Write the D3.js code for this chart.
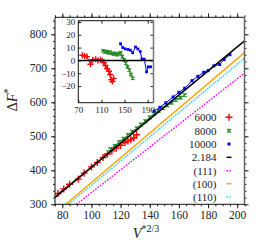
<!DOCTYPE html>
<html>
<head>
<meta charset="utf-8">
<script src="https://cdn.jsdelivr.net/npm/d3@7"></script>
<style>
body { margin: 0; background: #fff; }
text { font-family: "Liberation Serif", "DejaVu Serif", serif; fill: #222; }
</style>
</head>
<body>
<div id="chart"></div>
<script>
// V^{2/3} and deviation from the 2.184 fit
const v6000 = [77, 81, 85, 91, 95, 100, 104, 108, 111, 114, 117, 120, 123, 125, 127, 129, 131];
const r6000 = [4, 3.5, 3, -3, 0.5, 1, 0, 0.5, 0, -1.5, -4, -6.5, -8.5, -11, -15, -16.5, -14];
const v8000 = [113, 116, 119, 122, 125, 128, 131, 134, 137, 140, 143, 146, 149, 152, 155, 158, 161, 164];
const r8000 = [7.5, 6.5, 7, 6, 6.5, 5.5, 5, 5.5, 4.5, 5, 6, 3, 0.5, -2, -5, -7.5, -11, -14];
const v10000 = [143, 147, 151, 156, 160, 164, 169, 173, 177, 180, 184, 188, 191, 195];
const r10000 = [13, 10, 9, 8.5, 8, 6, 10.5, 9, 7, 1, 1, -9, -5, -5];

// straight lines: slope / intercept
const fitSlope = 3.538, fitIntercept = 55.2;
const facetNames = ['(111)', '(100)', '(110)'];
const facetSlopes = [3.345, 3.64, 3.56];

const xTicks = [80, 100, 120, 140, 160, 180, 200];
const yTicks = [300, 400, 500, 600, 700, 800];
const insetXTicks = [70, 110, 150, 190];
const insetYTicks = [-20, -10, 0, 10, 20, 30];

const width = 266, height = 245;
const L = 55, R = 244.5, T = 17.3, B = 204.3;

const svg = d3.select('#chart').append('svg')
	.attr('width', width)
	.attr('height', height);

const x = d3.scaleLinear().domain([75, 205]).range([L, R]);
const y = d3.scaleLinear().domain([300, 850]).range([B, T]);

svg.append('clipPath').attr('id', 'clip')
	.append('rect').attr('x', L).attr('y', T).attr('width', R - L).attr('height', B - T);

// axes, ticks outward on all four sides
function axisStyle(g) {
	g.select('.domain').remove();
	g.selectAll('line').attr('stroke', '#222');
	g.selectAll('text').style('font-size', '11.5px').style('font-family', '"Liberation Serif", serif');
}
svg.append('g').attr('transform', 'translate(0,' + B + ')')
	.call(d3.axisBottom(x).tickValues(d3.range(75, 206, 5)).tickSize(2).tickFormat(''))
	.call(axisStyle);
svg.append('g').attr('transform', 'translate(0,' + B + ')')
	.call(d3.axisBottom(x).tickValues(xTicks).tickSize(4).tickPadding(3))
	.call(axisStyle);
svg.append('g').attr('transform', 'translate(0,' + T + ')')
	.call(d3.axisTop(x).tickValues(d3.range(75, 206, 5)).tickSize(2).tickFormat(''))
	.call(axisStyle);
svg.append('g').attr('transform', 'translate(0,' + T + ')')
	.call(d3.axisTop(x).tickValues(xTicks).tickSize(4).tickFormat(''))
	.call(axisStyle);
svg.append('g').attr('transform', 'translate(' + L + ',0)')
	.call(d3.axisLeft(y).tickValues(d3.range(300, 851, 20)).tickSize(2).tickFormat(''))
	.call(axisStyle);
svg.append('g').attr('transform', 'translate(' + L + ',0)')
	.call(d3.axisLeft(y).tickValues(yTicks).tickSize(4).tickPadding(4))
	.call(axisStyle);
svg.append('g').attr('transform', 'translate(' + R + ',0)')
	.call(d3.axisRight(y).tickValues(d3.range(300, 851, 20)).tickSize(2).tickFormat(''))
	.call(axisStyle);
svg.append('g').attr('transform', 'translate(' + R + ',0)')
	.call(d3.axisRight(y).tickValues(yTicks).tickSize(4).tickFormat(''))
	.call(axisStyle);

// axis titles
svg.append('text')
	.attr('transform', 'translate(17,100) rotate(-90)')
	.attr('text-anchor', 'middle')
	.style('font-size', '14.5px')
	.call(t => {
		t.append('tspan').text('Δ');
		t.append('tspan').attr('font-style', 'italic').text('F');
		t.append('tspan').attr('dy', -6).style('font-size', '10px').text('*');
	});
svg.append('text')
	.attr('x', 146).attr('y', 238)
	.attr('text-anchor', 'middle')
	.style('font-size', '14.5px')
	.call(t => {
		t.append('tspan').attr('font-style', 'italic').text('V');
		t.append('tspan').attr('dy', -6).style('font-size', '10px').text('*2/3');
	});

const plot = svg.append('g').attr('clip-path', 'url(#clip)');

// facet lines through origin
const facetColors = ['#ff00ff', '#ffa500', '#00e5ee'];
const facetDash = ['1.6,1.4', null, '1.6,1'];
facetSlopes.forEach(function(s, i) {
	plot.append('line')
		.attr('x1', x(75)).attr('y1', y(75 * s))
		.attr('x2', x(205)).attr('y2', y(205 * s))
		.attr('stroke', facetColors[i])
		.attr('stroke-width', 1.4)
		.attr('stroke-dasharray', facetDash[i]);
});

const series = [
	{ name: '6000', v: v6000, r: r6000, color: '#ff0000', shape: 'plus' },
	{ name: '8000', v: v8000, r: r8000, color: '#228b22', shape: 'star' },
	{ name: '10000', v: v10000, r: r10000, color: '#0000ff', shape: 'square' }
];

function marker(sel, shape, color, s) {
	if (shape === 'square') {
		sel.append('rect').attr('x', -s * 0.6).attr('y', -s * 0.6)
			.attr('width', s * 1.2).attr('height', s * 1.2).attr('fill', color);
	} else if (shape === 'plus') {
		sel.append('path').attr('d', 'M' + (-s) + ',0H' + s + 'M0,' + (-s) + 'V' + s)
			.attr('stroke', color).attr('stroke-width', 1.4).attr('fill', 'none');
	} else {
		const k = s * 0.75;
		sel.append('path').attr('d', 'M' + (-k) + ',' + (-k) + 'L' + k + ',' + k + 'M' + (-k) + ',' + k + 'L' + k + ',' + (-k) + 'M0,' + (-k) + 'V' + k)
			.attr('stroke', color).attr('stroke-width', 1.2).attr('fill', 'none');
	}
}

const fit = d => fitSlope * d + fitIntercept;
const mainLine = d3.line().x(d => x(d[0])).y(d => y(d[1]));

series.forEach(function(s) {
	const pts = s.v.map((d, i) => [d, fit(d) + s.r[i]]);
	plot.append('path').datum(pts)
		.attr('d', mainLine).attr('fill', 'none')
		.attr('stroke', s.color).attr('stroke-width', 1);
	plot.selectAll(null).data(pts).enter().append('g')
		.attr('transform', d => 'translate(' + x(d[0]) + ',' + y(d[1]) + ')')
		.each(function() { marker(d3.select(this), s.shape, s.color, s.shape === 'plus' ? 3.5 : 2.5); });
});

// fit line
plot.append('line')
	.attr('x1', x(75)).attr('y1', y(fit(75)))
	.attr('x2', x(205)).attr('y2', y(fit(205)))
	.attr('stroke', '#000').attr('stroke-width', 1.5);

// frame
svg.append('path')
	.attr('d', 'M' + R + ',' + T + 'H' + L + 'V' + B + 'H' + R)
	.attr('fill', 'none').attr('stroke', '#111').attr('stroke-width', 1);
svg.append('line')
	.attr('x1', R).attr('x2', R).attr('y1', T).attr('y2', B)
	.attr('stroke', '#666').attr('stroke-width', 1.5);

// legend
const legendRows = [117.3, 130.7, 144, 157.3, 170.7, 183.7, 197];
const legendItems = [
	{ label: '6000', kind: 'plus', color: '#ff0000' },
	{ label: '8000', kind: 'star', color: '#228b22' },
	{ label: '10000', kind: 'square', color: '#0000ff' },
	{ label: '2.184', kind: 'line', color: '#000', dash: null },
	{ label: facetNames[0], kind: 'line', color: facetColors[0], dash: '1.5,1.5' },
	{ label: facetNames[1], kind: 'line', color: facetColors[1], dash: null },
	{ label: facetNames[2], kind: 'line', color: facetColors[2], dash: '1.5,1.5' }
];
const leg = svg.selectAll('.leg').data(legendItems).enter().append('g')
	.attr('class', 'leg')
	.attr('transform', (d, i) => 'translate(0,' + legendRows[i] + ')');
leg.append('text')
	.attr('x', 216.5).attr('dy', '0.35em')
	.attr('text-anchor', 'end')
	.style('font-size', '11px')
	.text(d => d.label);
leg.each(function(d) {
	const g = d3.select(this).append('g').attr('transform', 'translate(229,0)');
	if (d.kind === 'line') {
		g.append('line').attr('x1', -2.5).attr('x2', 2.5)
			.attr('stroke', d.color).attr('stroke-width', 1.5)
			.attr('stroke-dasharray', d.dash);
	} else {
		marker(g, d.kind, d.color, d.kind === 'plus' ? 3.5 : 2.5);
	}
});

// inset: deviation from the fit
const ix = d3.scaleLinear().domain([70, 200]).range([78.3, 153.5]);
const iy = d3.scaleLinear().domain([-33, 31]).range([102.7, 20.7]);

const inset = svg.append('g');
inset.append('rect')
	.attr('x', 78.3).attr('y', 20.7).attr('width', 153.5 - 78.3).attr('height', 102.7 - 20.7)
	.attr('fill', '#fff');

function insetAxisStyle(g) {
	g.select('.domain').remove();
	g.selectAll('line').attr('stroke', '#222');
	g.selectAll('text').style('font-size', '9px').style('font-family', '"Liberation Serif", serif');
}
inset.append('g').attr('transform', 'translate(0,102.7)')
	.call(d3.axisBottom(ix).tickValues(insetXTicks).tickSize(-3).tickPadding(4))
	.call(insetAxisStyle);
inset.append('g').attr('transform', 'translate(0,20.7)')
	.call(d3.axisTop(ix).tickValues(insetXTicks).tickSize(-3).tickFormat(''))
	.call(insetAxisStyle);
inset.append('g').attr('transform', 'translate(78.3,0)')
	.call(d3.axisLeft(iy).tickValues(insetYTicks).tickSize(-3).tickPadding(3))
	.call(insetAxisStyle);
inset.append('g').attr('transform', 'translate(153.5,0)')
	.call(d3.axisRight(iy).tickValues(insetYTicks).tickSize(-3).tickFormat(''))
	.call(insetAxisStyle);

const insetLine = d3.line().x(d => ix(d[0])).y(d => iy(d[1]));
series.forEach(function(s) {
	const pts = s.v.map((d, i) => [d, s.r[i]]);
	inset.append('path').datum(pts)
		.attr('d', insetLine).attr('fill', 'none')
		.attr('stroke', s.color).attr('stroke-width', 1);
	inset.selectAll(null).data(pts).enter().append('g')
		.attr('transform', d => 'translate(' + ix(d[0]) + ',' + iy(d[1]) + ')')
		.each(function() { marker(d3.select(this), s.shape, s.color, s.shape === 'plus' ? 3 : 2.3); });
});
inset.append('line')
	.attr('x1', ix(70)).attr('x2', ix(200))
	.attr('y1', iy(0)).attr('y2', iy(0))
	.attr('stroke', '#000').attr('stroke-width', 1.5);

inset.append('path')
	.attr('d', 'M153.5,20.7H78.3V102.7H153.5')
	.attr('fill', 'none').attr('stroke', '#111').attr('stroke-width', 1);
inset.append('line')
	.attr('x1', 153.5).attr('x2', 153.5).attr('y1', 20.7).attr('y2', 102.7)
	.attr('stroke', '#777').attr('stroke-width', 1.5);
</script>
</body>
</html>
